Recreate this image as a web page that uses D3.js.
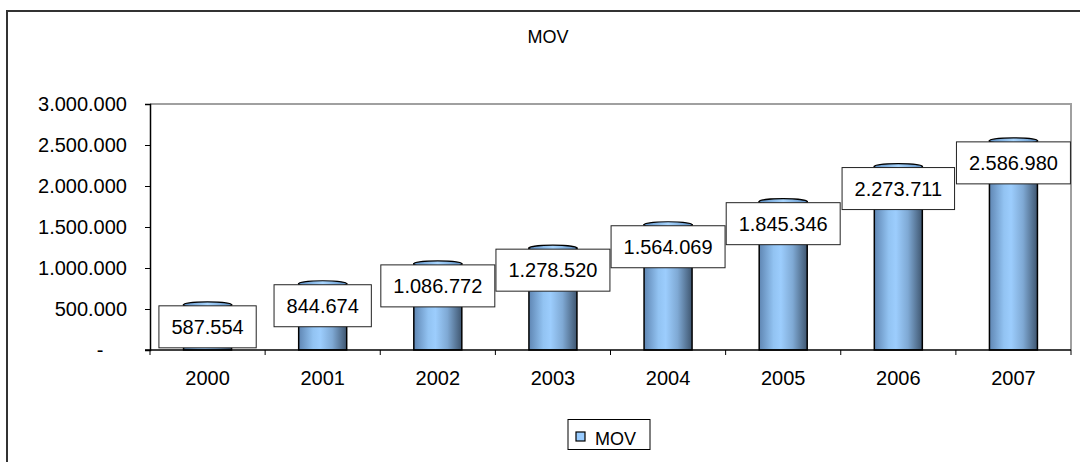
<!DOCTYPE html>
<html>
<head>
<meta charset="utf-8">
<script src="https://cdn.jsdelivr.net/npm/d3@7"></script>
<style>
  html, body { margin: 0; padding: 0; background: #fff; }
  svg { display: block; font-family: "Liberation Sans", Arial, sans-serif; }
</style>
</head>
<body>
<svg id="chart" width="1080" height="462"></svg>
<script>
const categories = ["2000", "2001", "2002", "2003", "2004", "2005", "2006", "2007"];
const movValues = [587554, 844674, 1086772, 1278520, 1564069, 1845346, 2273711, 2586980];
const yTicks = [0, 500000, 1000000, 1500000, 2000000, 2500000, 3000000];
const seriesName = "MOV";
const chartTitle = "MOV";

const locale = d3.formatLocale({ decimal: ",", thousands: ".", grouping: [3], currency: ["", ""] });
const fmt = locale.format(",d");

const svg = d3.select("#chart");
const W = 1080, H = 462;
const plot = { left: 150, top: 104, right: 1071, bottom: 350 };

// gradients
const defs = svg.append("defs");
const grad = defs.append("linearGradient").attr("id", "cyl").attr("x1", "0%").attr("x2", "100%").attr("y1", "0%").attr("y2", "0%");
[[0, "#5f86b3"], [0.3, "#92c3f2"], [0.45, "#9ccdfd"], [0.7, "#7fa9d4"], [1, "#3f5670"]].forEach(([o, c]) =>
  grad.append("stop").attr("offset", o).attr("stop-color", c));
const capGrad = defs.append("linearGradient").attr("id", "cap").attr("x1", "0%").attr("x2", "100%");
[[0, "#5d8fc4"], [0.5, "#a9d6ff"], [1, "#5d8fc4"]].forEach(([o, c]) =>
  capGrad.append("stop").attr("offset", o).attr("stop-color", c));

// outer chart border
svg.append("path")
  .attr("d", `M7,${H + 2} L7,11 L${W + 2},11`)
  .attr("fill", "none").attr("stroke", "#333").attr("stroke-width", 2);

// title
svg.append("text").attr("x", 548).attr("y", 43).attr("text-anchor", "middle")
  .attr("font-size", 18).attr("fill", "#000").text(chartTitle);

const x = d3.scaleBand().domain(categories).range([plot.left, plot.right]).padding(0);
const y = d3.scaleLinear().domain([0, 3000000]).range([plot.bottom, plot.top]);

// plot area border (top and right grey)
svg.append("path")
  .attr("d", `M${plot.left},${plot.top} L${plot.right},${plot.top} L${plot.right},${plot.bottom}`)
  .attr("fill", "none").attr("stroke", "#a0a0a0").attr("stroke-width", 2);

// bars
const barW = 48;
const g = svg.append("g");
const bars = g.selectAll("g.bar").data(categories.map((c, i) => ({ c, v: movValues[i] }))).join("g").attr("class", "bar");
bars.append("rect")
  .attr("x", d => x(d.c) + x.bandwidth() / 2 - barW / 2)
  .attr("y", d => y(d.v) + 3)
  .attr("width", barW)
  .attr("height", d => plot.bottom - y(d.v) - 3)
  .attr("fill", "url(#cyl)").attr("stroke", "#000").attr("stroke-width", 1.5);
bars.append("ellipse")
  .attr("cx", d => x(d.c) + x.bandwidth() / 2)
  .attr("cy", d => y(d.v) + 3)
  .attr("rx", barW / 2).attr("ry", 3)
  .attr("fill", "url(#cap)").attr("stroke", "#000").attr("stroke-width", 1.2);

// y axis
const yAxis = d3.axisLeft(y).tickValues(yTicks).tickSize(5).tickPadding(18)
  .tickFormat(d => d === 0 ? "-" : fmt(d));
const ya = svg.append("g").attr("transform", `translate(${plot.left},0)`).call(yAxis);
ya.select(".domain").attr("stroke", "#000").attr("stroke-width", 1.5);
ya.selectAll(".tick line").attr("stroke", "#000");
ya.selectAll(".tick text").attr("font-size", 20).attr("fill", "#000")
  .attr("font-family", "'Liberation Sans', Arial, sans-serif");
ya.selectAll(".tick text").filter(d => d === 0).attr("x", -50).attr("text-anchor", "middle");

// x axis
const xAxis = d3.axisBottom(x).tickSize(0).tickPadding(21);
const xa = svg.append("g").attr("transform", `translate(0,${plot.bottom})`).call(xAxis);
xa.select(".domain").remove();
xa.append("line").attr("x1", plot.left - 5).attr("x2", plot.right).attr("y1", 0).attr("y2", 0)
  .attr("stroke", "#000").attr("stroke-width", 1.5);
xa.selectAll(".sep").data(categories.concat(["end"])).join("line").attr("class", "sep")
  .attr("x1", (d, i) => plot.left + i * x.bandwidth()).attr("x2", (d, i) => plot.left + i * x.bandwidth())
  .attr("y1", 0).attr("y2", 5).attr("stroke", "#000");
xa.selectAll(".tick text").attr("font-size", 20).attr("fill", "#000")
  .attr("font-family", "'Liberation Sans', Arial, sans-serif");

// data labels
const labels = svg.append("g").selectAll("g.lbl").data(categories.map((c, i) => ({ c, v: movValues[i] }))).join("g").attr("class", "lbl");
labels.each(function (d) {
  const gg = d3.select(this);
  const cx = x(d.c) + x.bandwidth() / 2;
  const t = gg.append("text").attr("x", cx).attr("y", y(d.v) + 4 + 28)
    .attr("text-anchor", "middle").attr("font-size", 20).attr("fill", "#000").text(fmt(d.v));
  const w = t.node().getComputedTextLength() + 25;
  gg.insert("rect", "text").attr("x", cx - w / 2).attr("y", y(d.v) + 4)
    .attr("width", w).attr("height", 42)
    .attr("fill", "#fff").attr("stroke", "#222").attr("stroke-width", 1);
});

// legend
const lg = svg.append("g");
lg.append("rect").attr("x", 568).attr("y", 419.5).attr("width", 82).attr("height", 30)
  .attr("fill", "#fff").attr("stroke", "#000").attr("stroke-width", 1);
lg.append("rect").attr("x", 576).attr("y", 432).attr("width", 9).attr("height", 9)
  .attr("fill", "#99ccff").attr("stroke", "#000").attr("stroke-width", 1.2);
lg.append("text").attr("x", 595).attr("y", 445).attr("font-size", 18).attr("fill", "#000").text(seriesName);
</script>
</body>
</html>
